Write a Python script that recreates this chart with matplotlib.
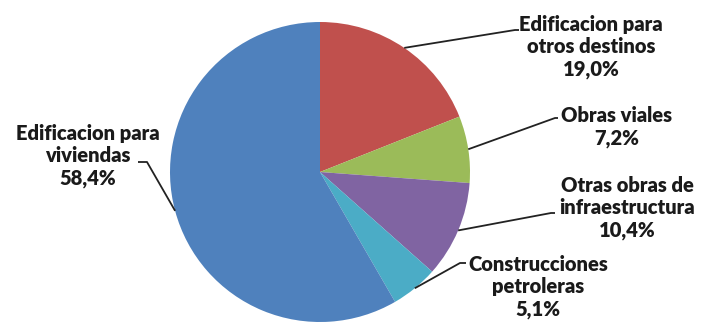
import numpy as np
import matplotlib
matplotlib.use("Agg")
import matplotlib.pyplot as plt

categories = ["Edificacion para\notros destinos", "Obras viales",
              "Otras obras de\ninfraestructura", "Construcciones\npetroleras",
              "Edificacion para\nviviendas"]
values = [19.0, 7.2, 10.4, 5.1, 58.4]
pct_labels = ["19,0%", "7,2%", "10,4%", "5,1%", "58,4%"]
colors = ["#C0504D", "#9BBB59", "#8064A2", "#4BACC6", "#4F81BD"]

W, H = 704, 329
fig = plt.figure(figsize=(W / 100, H / 100), dpi=100)
ax = fig.add_axes([0, 0, 1, 1])

cx, cy, r = 320, H - 172, 150
wedges, _ = ax.pie(values, colors=colors, startangle=90, counterclock=False,
                   center=(cx, cy), radius=r,
                   wedgeprops=dict(linewidth=0, edgecolor="none"))

# label text centres (pixel coords, y from top) and leader line ends
text_pos = [(591, 47), (617, 127), (627, 208), (538, 287), (88, 156)]
line_end = [[(515, 30), (519, 30)], [(555, 118), (558, 118)],
            [(551, 213), (555, 213)], [(460, 263), (466, 263)],
            [(147, 162), (138, 162)]]

for w, cat, pct, (tx, ty), ends in zip(wedges, categories, pct_labels, text_pos, line_end):
    ang = np.deg2rad((w.theta1 + w.theta2) / 2)
    px, py = cx + r * np.cos(ang), cy + r * np.sin(ang)
    xs = [px] + [e[0] for e in ends]
    ys = [py] + [H - e[1] for e in ends]
    ax.plot(xs, ys, color="#222222", lw=1.3, solid_capstyle="butt")
    ax.text(tx, H - ty, f"{cat}\n{pct}", ha="center", va="center",
            fontsize=14.5, fontweight="heavy", family=["Lato", "DejaVu Sans"],
            color="#1a1a1a", linespacing=1.2)

ax.set_xlim(0, W)
ax.set_ylim(0, H)
ax.set_aspect("equal")
ax.axis("off")
fig.savefig("out.png", dpi=100)
